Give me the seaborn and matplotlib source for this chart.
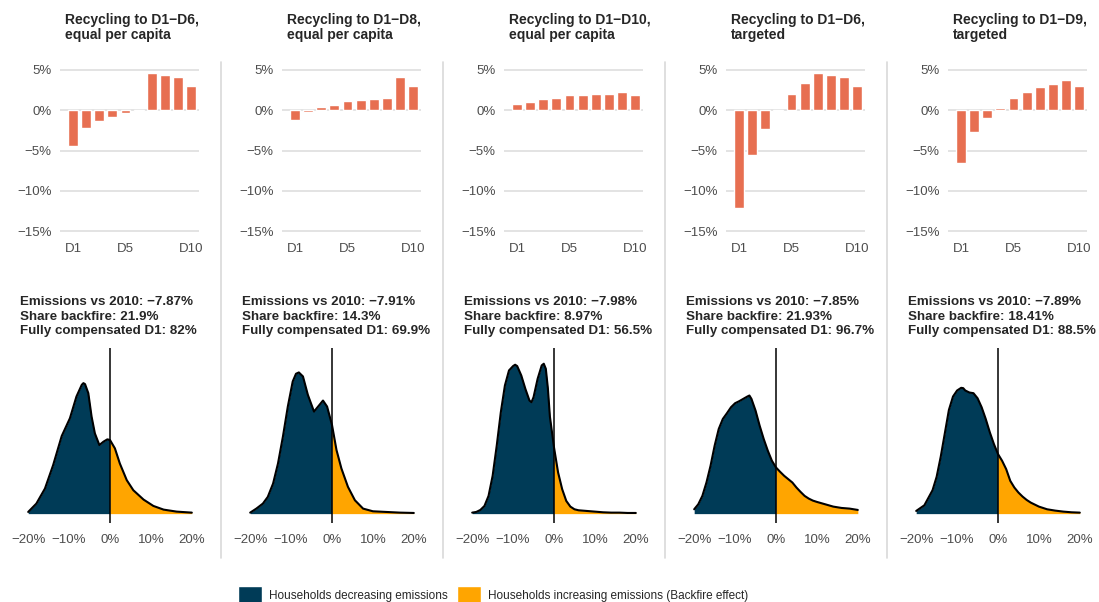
import pandas as pd
import seaborn as sns
import matplotlib.pyplot as plt
from matplotlib.patches import Patch
from matplotlib.lines import Line2D

# ---- data ----
deciles = ["D1", "D2", "D3", "D4", "D5", "D6", "D7", "D8", "D9", "D10"]

titles = [
    ("Recycling to D1\u2212D6,", "equal per capita"),
    ("Recycling to D1\u2212D8,", "equal per capita"),
    ("Recycling to D1\u2212D10,", "equal per capita"),
    ("Recycling to D1\u2212D6,", "targeted"),
    ("Recycling to D1\u2212D9,", "targeted"),
]

emissions = ["\u22127.87%", "\u22127.91%", "\u22127.98%", "\u22127.85%", "\u22127.89%"]
backfire = ["21.9%", "14.3%", "8.97%", "21.93%", "18.41%"]
compensated = ["82%", "69.9%", "56.5%", "96.7%", "88.5%"]

# change in disposable income by decile (%)
bars_d6_equal = [-4.4, -2.2, -1.3, -0.85, -0.35, -0.1, 4.65, 4.4, 4.1, 3.0]
bars_d8_equal = [-1.2, -0.25, 0.4, 0.6, 1.1, 1.25, 1.4, 1.5, 4.1, 3.0]
bars_d10_equal = [0.75, 1.0, 1.4, 1.5, 1.85, 1.85, 2.0, 2.0, 2.25, 1.85]
bars_d6_target = [-12.2, -5.6, -2.3, -0.1, 2.0, 3.4, 4.6, 4.4, 4.1, 3.0]
bars_d9_target = [-6.6, -2.75, -1.0, 0.25, 1.5, 2.25, 2.85, 3.25, 3.75, 3.0]

# density of household emission change (%), arbitrary units
dens_x_1 = [-20, -18, -15.9, -13.9, -11.8, -9.8, -8.2, -6.9, -6.5, -6.1, -5.3, -4.5, -3.7,
            -2.6, -1.6, -0.65, 0, 1.2, 2.4, 4.1, 5.7, 8.2, 10.6, 13.1, 16.3, 20]
dens_y_1 = [5, 30, 75, 145, 232, 285, 350, 385, 390, 387, 360, 290, 240,
            205, 215, 222, 220, 195, 150, 100, 70, 42, 23, 12, 6, 3]

dens_x_2 = [-20, -18.5, -16.9, -15.7, -14.4, -13.2, -12, -10.8, -9.6, -8.8, -8.1, -7.1,
            -5.9, -4.4, -3.4, -2.2, -1.2, 0, 1.1, 2.3, 3.9, 5.6, 7.6, 10, 13.3, 16.6, 20]
dens_y_2 = [3, 15, 30, 50, 90, 150, 230, 320, 395, 418, 422, 410,
            355, 305, 320, 338, 320, 265, 190, 135, 80, 40, 15, 7, 5, 3, 2]

dens_x_3 = [-20, -19, -18, -17, -16, -15, -14, -13, -12, -11, -10, -9.5, -9, -8, -7, -6, -5.5,
            -5, -4, -3, -2.5, -2, -1.5, -1, 0, 1, 2, 3, 4, 5, 6, 8, 10, 12, 14, 16, 18, 20]
dens_y_3 = [3, 5, 11, 23, 53, 113, 203, 303, 383, 428, 441, 445, 441, 413, 373, 338, 333,
            348, 403, 443, 448, 433, 375, 290, 198, 123, 73, 38, 21, 13, 10, 8, 6, 4, 3, 3, 2, 2]

dens_x_4 = [-20, -19, -18, -17, -16, -15, -14, -13, -12, -11, -10, -9, -8, -7, -6.5, -6, -5,
            -4, -3, -2, -1, 0, 1, 2, 3, 4, 5, 6, 7, 8, 9, 10, 12, 14, 16, 18, 20]
dens_y_4 = [13, 28, 53, 93, 143, 203, 253, 283, 300, 318, 330, 336, 343, 350, 353, 343, 308,
            263, 223, 188, 158, 138, 125, 113, 103, 93, 78, 65, 53, 45, 39, 35, 28, 21, 17, 15, 11]

dens_x_5 = [-20, -18, -16, -15, -14, -13, -12, -11, -10, -9, -8.5, -8, -7, -6, -5, -4, -3,
            -2, -1, 0, 1, 2, 3, 4, 5, 6, 7, 8, 10, 12, 14, 16, 18, 20]
dens_y_5 = [8, 25, 70, 110, 170, 240, 310, 350, 368, 376, 375, 368, 362, 360, 345, 318, 283,
            243, 208, 178, 158, 133, 98, 78, 63, 51, 41, 33, 21, 13, 9, 6, 4, 3]

bar_sets = [bars_d6_equal, bars_d8_equal, bars_d10_equal, bars_d6_target, bars_d9_target]
dens_sets = [(dens_x_1, dens_y_1), (dens_x_2, dens_y_2), (dens_x_3, dens_y_3),
             (dens_x_4, dens_y_4), (dens_x_5, dens_y_5)]

BAR = "#E76F51"
NAVY = "#003B57"
ORANGE = "#FFA500"
TICK = "#4D4D4D"
GRID = "#DEDEDE"

sns.set_style("white")
plt.rcParams["font.family"] = ["Liberation Sans", "DejaVu Sans"]

W, H = 1099, 602
fig = plt.figure(figsize=(W / 100, H / 100), dpi=100)


def box(left, top, right, bottom):
    return [left / W, 1 - bottom / H, (right - left) / W, (bottom - top) / H]


def pct(v):
    return f"{v}%".replace("-", "\u2212")


for i in range(5):
    c = 222 * i - 2

    # titles
    fig.text((c + 67) / W, 1 - 20 / H, titles[i][0], fontsize=10, fontweight="bold",
             va="center", ha="left")
    fig.text((c + 67) / W, 1 - 34.5 / H, titles[i][1], fontsize=10, fontweight="bold",
             va="center", ha="left")

    # decile bars
    ax = fig.add_axes(box(c + 62, 65, c + 201, 236))
    df = pd.DataFrame({"decile": deciles, "change": bar_sets[i]})
    sns.barplot(data=df, x="decile", y="change", color=BAR, saturation=1, width=0.75,
                ax=ax, zorder=3)
    ax.set_xlim(-1.0, 9.61)
    ax.set_ylim(-15.62, 5.62)
    ax.set_yticks([5, 0, -5, -10, -15])
    ax.set_yticklabels([pct(v) for v in [5, 0, -5, -10, -15]])
    ax.set_xticks([0, 4, 9])
    ax.set_xticklabels(["D1", "D5", "D10"])
    ax.yaxis.grid(True, color=GRID, lw=1.2)
    ax.xaxis.grid(False)
    ax.set_axisbelow(True)
    ax.set_xlabel("")
    ax.set_ylabel("")
    sns.despine(ax=ax, left=True, bottom=True)
    ax.tick_params(axis="y", length=0, pad=6, labelsize=9.5, labelcolor=TICK)
    ax.tick_params(axis="x", length=3, width=0.8, color="#BBBBBB", pad=2,
                   labelsize=9.5, labelcolor=TICK)

    # stats text
    for k, line in enumerate([f"Emissions vs 2010: {emissions[i]}",
                              f"Share backfire: {backfire[i]}",
                              f"Fully compensated D1: {compensated[i]}"]):
        fig.text((c + 22) / W, 1 - (302 + 14.5 * k) / H, line, fontsize=9.6,
                 fontweight="bold", va="center", ha="left")

    # density
    xs, ys = dens_sets[i]
    ax2 = fig.add_axes(box(c + 22, 348, c + 202, 523))
    ax2.fill_between([x for x in xs if x <= 0], [y for x, y in zip(xs, ys) if x <= 0],
                     color=NAVY, lw=0)
    ax2.fill_between([x for x in xs if x >= 0], [y for x, y in zip(xs, ys) if x >= 0],
                     color=ORANGE, lw=0)
    sns.lineplot(x=xs, y=ys, color="black", lw=1.5, ax=ax2, sort=False)
    ax2.axvline(0, color="black", lw=1.1)
    ax2.set_xlim(-22, 22)
    ax2.set_ylim(-28, 495)
    ax2.set_xticks([-20, -10, 0, 10, 20])
    ax2.set_xticklabels([pct(v) for v in [-20, -10, 0, 10, 20]])
    ax2.set_yticks([])
    sns.despine(ax=ax2, left=True, bottom=True)
    ax2.tick_params(axis="x", length=0, pad=8, labelsize=9.5, labelcolor=TICK)

    # column separators
    if i > 0:
        xsep = (222 * i - 1) / W
        fig.add_artist(Line2D([xsep, xsep], [1 - 62 / H, 1 - 558 / H],
                              color="#D9D9D9", lw=1.2))

handles = [Patch(facecolor=NAVY, label="Households decreasing emissions"),
           Patch(facecolor=ORANGE, label="Households increasing emissions (Backfire effect)")]
fig.legend(handles=handles, loc="center", bbox_to_anchor=(493 / W, 1 - 595 / H), ncol=2,
           frameon=False, fontsize=8.5, handlelength=2, handleheight=2,
           handletextpad=0.6, columnspacing=0.8)

fig.savefig("out.png", dpi=100)
